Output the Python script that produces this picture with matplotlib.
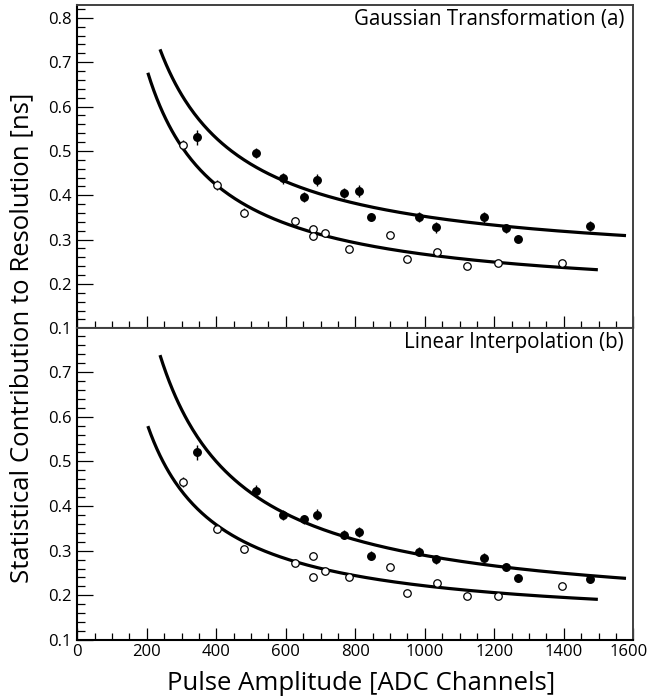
import numpy as np
import matplotlib
matplotlib.use("Agg")
import matplotlib.pyplot as plt
from matplotlib.ticker import MultipleLocator, FormatStrFormatter, FuncFormatter

plt.rcParams['font.family'] = ['Open Sans', 'DejaVu Sans']

# Pulse amplitudes (ADC channels) of the two data sets
x_filled = [344, 514, 591, 652, 690, 768, 812, 845, 983, 1031, 1171, 1233, 1269, 1475]
x_open = [303, 401, 480, 626, 677, 677, 713, 783, 900, 950, 1034, 1121, 1212, 1396]

# (a) Gaussian transformation
ga_filled = [0.531, 0.495, 0.438, 0.396, 0.434, 0.405, 0.410, 0.351, 0.351, 0.328, 0.350, 0.326, 0.302, 0.331]
ga_filled_err = [0.017, 0.012, 0.012, 0.012, 0.013, 0.012, 0.013, 0.010, 0.012, 0.012, 0.012, 0.010, 0.008, 0.011]
ga_open = [0.513, 0.423, 0.361, 0.342, 0.323, 0.308, 0.314, 0.278, 0.311, 0.256, 0.271, 0.240, 0.247, 0.247]
ga_open_err = [0.011, 0.011, 0.010, 0.008, 0.008, 0.008, 0.008, 0.007, 0.007, 0.007, 0.008, 0.006, 0.006, 0.006]

# (b) Linear interpolation
li_filled = [0.520, 0.434, 0.380, 0.370, 0.381, 0.336, 0.341, 0.289, 0.298, 0.281, 0.284, 0.264, 0.238, 0.236]
li_filled_err = [0.017, 0.012, 0.011, 0.010, 0.012, 0.010, 0.011, 0.010, 0.010, 0.010, 0.010, 0.009, 0.008, 0.009]
li_open = [0.453, 0.348, 0.303, 0.273, 0.289, 0.240, 0.255, 0.242, 0.264, 0.206, 0.227, 0.198, 0.198, 0.221]
li_open_err = [0.011, 0.009, 0.008, 0.008, 0.008, 0.007, 0.007, 0.007, 0.007, 0.006, 0.007, 0.006, 0.006, 0.006]

# Fitted curves  y = a / x + b  and the amplitude range they span
fit_ga_filled = (117.7, 0.2345, 238, 1579)
fit_ga_open = (104.3, 0.1624, 203, 1498)
fit_li_filled = (140.1, 0.1493, 238, 1579)
fit_li_open = (91.1, 0.1302, 203, 1498)

X_MAX = 1600
TICK_FS = 12.0

W, H = 649, 700
fig = plt.figure(figsize=(W / 100, H / 100), dpi=100)

left, right = 77.3 / W, 633.3 / W
top_y, mid_y, bot_y = 1 - 5 / H, 1 - 328.3 / H, 1 - 640 / H
ax_a = fig.add_axes([left, mid_y, right - left, top_y - mid_y])
ax_b = fig.add_axes([left, bot_y, right - left, mid_y - bot_y])


def draw_panel(ax, xf, yf, ef, xo, yo, eo, fits, ylim_top, title, title_base):
    for a, b, x0, x1 in fits:
        xx = np.linspace(x0, x1, 300)
        ax.plot(xx, a / xx + b, color='black', lw=2.3, zorder=2, solid_capstyle='butt')
    ax.errorbar(xf, yf, yerr=ef, fmt='o', ms=5.4, mfc='black', mec='black',
                ecolor='black', elinewidth=1.0, capsize=0, zorder=4)
    ax.errorbar(xo, yo, yerr=eo, fmt='o', ms=5.4, mfc='white', mec='black',
                mew=0.9, ecolor='black', elinewidth=1.0, capsize=0, zorder=3)
    ax.set_xlim(0, X_MAX)
    ax.set_ylim(0.1, ylim_top)
    ax.xaxis.set_major_locator(MultipleLocator(200))
    ax.xaxis.set_minor_locator(MultipleLocator(50))
    ax.yaxis.set_major_locator(MultipleLocator(0.1))
    ax.yaxis.set_minor_locator(MultipleLocator(0.02))
    ax.yaxis.set_major_formatter(FormatStrFormatter('%.1f'))
    ax.tick_params(axis='x', which='major', direction='in', length=8.5, width=0.9,
                   labelsize=TICK_FS, pad=3)
    ax.tick_params(axis='x', which='minor', direction='in', length=4.7, width=0.9)
    ax.tick_params(axis='y', which='major', direction='in', length=11.5, width=0.9,
                   labelsize=TICK_FS, pad=4)
    ax.tick_params(axis='y', which='minor', direction='in', length=5.8, width=0.9)
    ax.tick_params(top=False, right=False, which='both')
    for s in ('left', 'bottom'):
        ax.spines[s].set_linewidth(1.5)
        ax.spines[s].set_color('black')
    for s in ('top', 'right'):
        ax.spines[s].set_linewidth(1.4)
        ax.spines[s].set_color('#404040')
    fig.text(624 / W, 1 - title_base / H, title, ha='right', va='baseline', fontsize=14.8)


draw_panel(ax_a, x_filled, ga_filled, ga_filled_err, x_open, ga_open, ga_open_err,
           [fit_ga_filled, fit_ga_open], 0.829, 'Gaussian Transformation (a)', 25)
draw_panel(ax_b, x_filled, li_filled, li_filled_err, x_open, li_open, li_open_err,
           [fit_li_filled, fit_li_open], 0.798, 'Linear Interpolation (b)', 348)

ax_a.tick_params(axis='x', labelbottom=False)

# The last amplitude label sits against the figure edge, so it is set
# slightly inward by hand.
ax_b.xaxis.set_major_formatter(
    FuncFormatter(lambda v, p: '' if abs(v - X_MAX) < 1e-6 else f'{v:.0f}'))
ax_b.annotate(f'{X_MAX}', xy=(X_MAX, 0), xycoords=('data', 'axes fraction'),
              xytext=(-3.5, -3), textcoords='offset points',
              ha='center', va='top', fontsize=TICK_FS)

fig.text(22 / W, 1 - 338 / H, 'Statistical Contribution to Resolution [ns]',
         rotation=90, ha='center', va='center', fontsize=18.5)
fig.text(361 / W, 1 - 684 / H, 'Pulse Amplitude [ADC Channels]',
         ha='center', va='center', fontsize=18.5)

fig.savefig('out.png', dpi=100)
